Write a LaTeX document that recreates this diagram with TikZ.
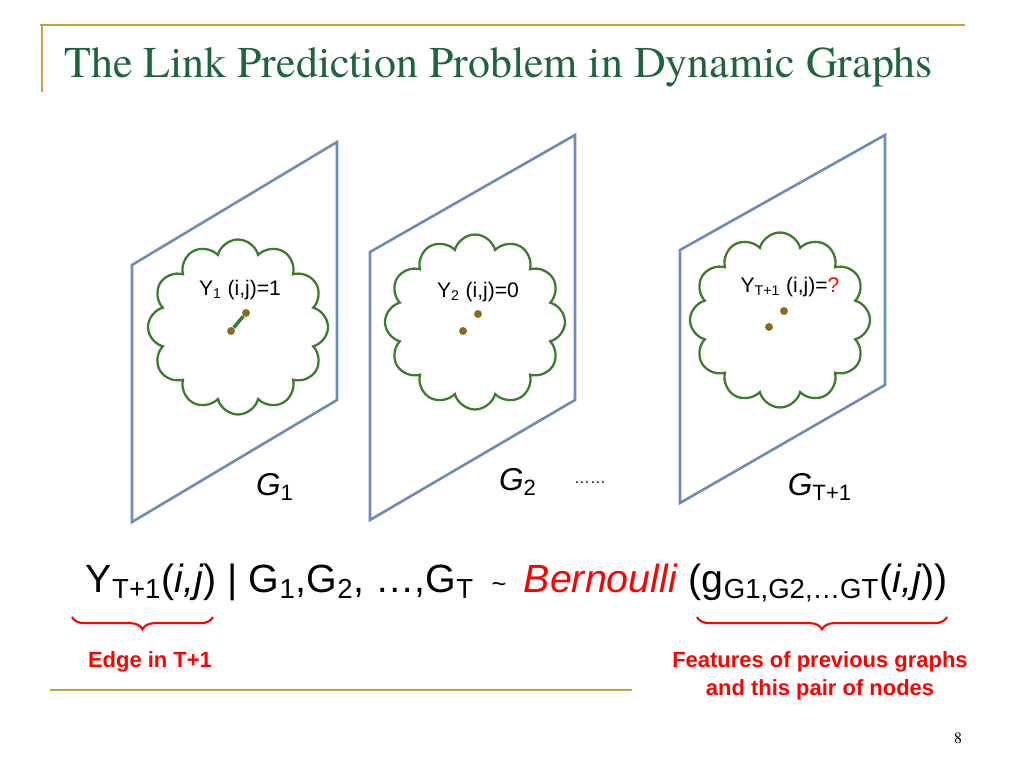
\documentclass[tikz,border=0pt]{standalone}
\usepackage{fontspec}
\setmainfont{Liberation Sans}
\newfontfamily\titlefont{TeX Gyre Termes}
\usetikzlibrary{shapes.symbols,decorations.pathreplacing,positioning}
\definecolor{gold}{RGB}{200,160,60}
\definecolor{plane}{RGB}{110,140,185}
\definecolor{leaf}{RGB}{60,125,45}
\definecolor{dot}{RGB}{140,105,30}
\definecolor{ttl}{RGB}{30,100,60}
\tikzset{
	graphcloud/.style={cloud, cloud puffs=12, draw=leaf, fill=white, line width=1.3pt, minimum width=36mm, minimum height=35mm},
	vert/.style={circle, fill=dot, inner sep=0pt, minimum size=4.5pt},
	ylabel/.style={font=\fontsize{12}{14}\selectfont},
	glabel/.style={font=\fontsize{18}{20}\selectfont},
	note/.style={text=red, font=\bfseries\fontsize{12.5}{16}\selectfont, align=center},
	redbrace/.style={draw=red, line width=1.2pt, decorate, decoration={brace, mirror, amplitude=7pt}}
}
\begin{document}
\begin{tikzpicture}[x=0.2mm,y=-0.2mm]
		\useasboundingbox (0,0) rectangle (1024,768);
		
		% frame lines
		\draw[gold, line width=1.2pt] (40,25) -- (965,25);
		\draw[gold, line width=1.2pt] (42,25) -- (42,92);
		\draw[gold, line width=1.2pt] (50,690) -- (632,690);
		\node[anchor=west, text=ttl, font=\titlefont\fontsize{25}{28}\selectfont] (title) at (58,67) {The Link Prediction Problem in Dynamic Graphs};
		
		% planes
		\draw[plane, line width=1.5pt] (132,265) -- (337,142) -- (337,400) -- (132,522) -- cycle;
		\draw[plane, line width=1.5pt] (370,252) -- (575,135) -- (575,400) -- (370,520) -- cycle;
		\draw[plane, line width=1.5pt] (680,250) -- (885,135) -- (885,385) -- (680,503) -- cycle;
		
		% clouds
		\node[graphcloud] (c1) at (238,327) {};
		\node[graphcloud] (c2) at (475,322) {};
		\node[graphcloud] (c3) at (780,320) {};
		
		\node[vert] (a1) at (246,313) {};
		\node[vert] (b1) at (231,331) {};
		\draw[leaf, line width=2pt] (a1) -- (b1);
		\node[vert] (a2) at (478,314) {};
		\node[vert] (b2) at (463,331) {};
		\node[vert] (a3) at (784,311) {};
		\node[vert] (b3) at (769,327) {};
		
		\node[ylabel] (y1) at (240,290) {Y\textsubscript{1} (i,j)=1};
		\node[ylabel] (y2) at (478,292) {Y\textsubscript{2} (i,j)=0};
		\node[ylabel] (y3) at (790,287) {Y\textsubscript{T+1} (i,j)=\textcolor{red}{?}};
		
		\node[glabel] (g1) at (275,487) {\textit{G}\textsubscript{1}};
		\node[glabel] (g2) at (518,482) {\textit{G}\textsubscript{2}};
		\node[font=\small] (dots) at (590,483) {\dots\dots};
		\node[glabel] (g3) at (820,487) {\textit{G}\textsubscript{T+1}};
		
		% formula
		\node[font=\fontsize{22.4}{26}\selectfont, inner sep=0pt] (eq) at (517,583)
			{Y\textsubscript{T+1}(\textit{i,j}) | G\textsubscript{1},G\textsubscript{2}, \dots,G\textsubscript{T} \,{\Large\textasciitilde}\, \textcolor{red}{\textit{Bernoulli}} (g\textsubscript{G1,G2,\dots GT}(\textit{i,j}))};
		
		\coordinate (l1) at (72,617);
		\coordinate (l2) at (213,617);
		\coordinate (r1) at (697,617);
		\coordinate (r2) at (947,617);
		\draw[redbrace] (l1) -- (l2);
		\draw[redbrace] (r1) -- (r2);
		\node[note] (edge) at (150,662) {Edge in T+1};
		\node[note] (feat) at (820,676) {Features of previous graphs\\and this pair of nodes};
		
		\node[font=\titlefont\small] (page) at (958,738) {8};
	\end{tikzpicture}
\end{document}
